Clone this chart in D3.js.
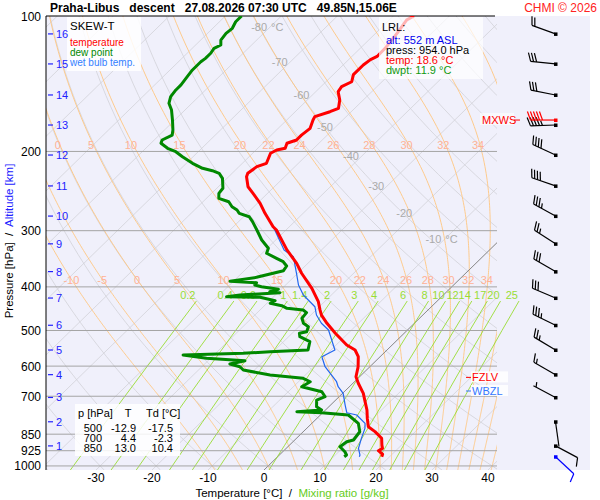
<!DOCTYPE html>
<html>
<head>
<meta charset="utf-8">
<script src="https://cdn.jsdelivr.net/npm/d3@7"></script>
<style>
body { margin: 0; background: #fff; }
svg { font-family: "Liberation Sans", Arial, sans-serif; }
</style>
</head>
<body>
<svg id="skewt" width="600" height="500"></svg>
<script>
// sounding data, [pressure hPa, value degC]
var temperature = [[100,-56.3],[102,-56.9],[109,-56.2],[117,-55.6],[123,-55.5],[125,-56.1],[128.5,-56.4],[135,-56.4],
	[140,-55.4],[143.6,-56.3],[147.3,-56.0],[153.7,-54.2],[160.4,-52.9],[163.2,-53.8],[167.4,-55.6],[170.3,-55.3],
	[177.7,-54.3],[184,-54.6],[188.6,-54.6],[191.8,-55.7],[196.8,-55.1],[198.5,-56.3],[201.9,-56.8],[212.5,-55.7],
	[216.2,-56.8],[223.7,-57.2],[227.6,-56.8],[239.6,-54.7],[247.8,-52.6],[260.8,-49.5],[274.5,-46.8],[294,-42.9],
	[299,-41.7],[331,-36.2],[354.5,-32.0],[373,-29.3],[403,-24.7],[431.5,-21.1],[450,-19.3],[462,-18.1],[482,-15.6],
	[507,-12.3],[538.6,-8.1],[552.5,-5.7],[571.8,-3.9],[601.8,-2.1],[633.4,-0.65],[655,0.96],[689.6,3.7],[714,5.2],
	[751,7.4],[784,9.0],[818,10.7],[839,12.8],[868,15.2],[899,16.5],[914,17.2],[925,16.9],[942,18.3],[954,18.6]];

var dewPoint = [[100,-87.1],[103,-87.1],[106.5,-86.5],[109.3,-86.7],[113.1,-86.4],[116,-85.5],[118,-86.1],[121,-85.8],
	[124.2,-85.8],[126.4,-86],[131.8,-86],[136.4,-85.7],[142.3,-85.3],[146,-85.3],[151.1,-85],[156.3,-84.1],
	[161.8,-82.4],[170.3,-80.4],[179.2,-78.5],[183.9,-77.7],[188.6,-78.6],[191.8,-78.2],[196.8,-76.1],[200.3,-74],
	[205.5,-71.9],[212.5,-68.9],[218,-66.2],[220.7,-64],[223.7,-62.3],[229.5,-60.8],[241.5,-58.9],[247.8,-58.7],
	[254.2,-57.8],[258.7,-55.4],[265.4,-53.9],[269.9,-52.4],[274.5,-51.4],[279.3,-49],[286.5,-47.5],[299,-45.2],
	[314.7,-42.5],[328.3,-39.8],[336.8,-39.2],[345.6,-36.5],[351.6,-34.7],[359.4,-33.3],[368.2,-33],[380.9,-36.6],
	[388.7,-40.6],[391.5,-35.6],[396.2,-35.5],[399.6,-34],[405,-30.5],[410,-31.6],[412.1,-29.6],[417,-36.3],
	[420.6,-38.4],[421.9,-32.3],[429.3,-29],[435,-29.4],[440.4,-26.9],[446.3,-25.5],[450.2,-22.3],[456.4,-21.2],
	[469.7,-21],[481.9,-19.8],[490.4,-18.3],[503,-17.7],[507.2,-18.7],[516.1,-18],[529.5,-15.3],[552.5,-14.1],
	[557.3,-20.6],[561.9,-25.1],[566.8,-35.5],[576.5,-30.7],[583.6,-23.4],[593.5,-25.5],[601.8,-23.2],[612,-22],
	[627.9,-16.3],[638.6,-9.8],[649.9,-7.9],[666.7,-8.5],[684,-4],[701.7,-2.5],[713.8,-3.4],[738.5,-2.2],
	[751.1,-0.7],[757.7,-4.8],[761.6,-0.2],[770.6,5],[804,8.3],[839.4,10.1],[875.8,10.5],[883.4,9.6],
	[906.3,9.3],[929.9,11.1],[945.7,12.0],[954,11.9]];

// wet bulb below the level where it leaves the temperature curve
var wetBulbLow = [[299,-42.0],[331,-36.7],[342.7,-33.8],[373.1,-30.2],[396.2,-27.7],[417,-25],[442.7,-20.8],
	[461.9,-19],[481.9,-16.6],[498.8,-14.1],[538.6,-10.5],[552.5,-9.3],[571.8,-10.4],[601.8,-8.0],[649.9,-3.2],
	[666.7,-2.0],[689.6,0.1],[732.2,2.6],[761.6,4.3],[770.6,6.5],[804,9.5],[825,10.4],[868.3,11.6],[913.7,12.9],
	[945.7,14.4],[954,14.6]];

var isobars = [100, 200, 300, 400, 500, 600, 700, 850, 925, 1000];
var tempTicks = [-30, -20, -10, 0, 10, 20, 30, 40];
var isoLabelT = [-80, -70, -60, -50, -40, -30, -20, -10];
var isoLabelP = [105.8, 126.3, 149.8, 176.2, 204.6, 238.5, 274.4, 313.8];
var mixRatios = [0.2, 0.4, 0.6, 1, 1.4, 2, 3, 4, 6, 8, 10, 12, 14, 17, 20, 25];
var moistThetaW = [-10, -5, 0, 5, 10, 15, 20, 22, 24, 26, 28, 30, 32, 34, 36, 38, 40];
var upperMoistLabels = [0, 5, 10, 15, 20, 22, 24, 26, 28, 30, 32, 34];

var kmLevels = [1, 2, 3, 4, 5, 6, 7, 8, 9, 10, 11, 12, 13, 14, 15, 16];
var kmP = [902.5, 797.7, 704.4, 626.8, 552.5, 486.8, 423.5, 369.9, 320.9, 278.4, 238.6, 203.7, 174.7, 149.8, 127.8, 109.6];
var windDir = [118, 172, 298, 300, 301, 296, 293, 300, 303, 299, 289, 295, 268, 281, 276, 290];
var windSpd = [10, 2, 5, 15, 25, 35, 30, 30, 25, 35, 40, 40, 45, 30, 30, 20];
var maxWind = [170.3, 270, 50];      // p, dir, kt
var groundWind = [954, 133, 10];

var lrlLines = ['alt: 552 m ASL', 'press: 954.0 hPa', 'temp: 18.6 °C', 'dwpt: 11.9 °C'];
var tableP = ['500', '700', '850'];
var tableT = ['-12.9', '4.4', '13.0'];
var tableTd = ['-17.5', '-2.3', '10.4'];

// window.top is read-only, so the plot edges get their own names
var plotL = 46, plotR = 497, plotT = 16, plotB = 470;
var skew = 1.025;

var svg = d3.select('#skewt');
var y = d3.scaleLog().domain([100, 1021]).range([plotT, plotB]);
var xT = d3.scaleLinear().domain([-30, 40]).range([96, 488]);

function sx(t, p) { return xT(t) + skew * (plotB - y(p)); }

var line = d3.line()
	.x(function (d) { return sx(d[1], d[0]); })
	.y(function (d) { return y(d[0]); });

// thermodynamics for the background lines
function dTdp(p, T) {
	var es = 6.112 * Math.exp(17.67 * (T - 273.15) / (T - 29.65));
	var rs = 0.622 * es / (p - es);
	return (287.04 * T + 2.501e6 * rs) / (1005.7 + 2.501e6 * 2.501e6 * rs * 0.622 / (287.04 * T * T)) / p;
}

function moistLine(tw) {
	var T = tw + 273.15, p = 1000, pts = [];
	var Tb = T, pb = 1000, down = [];
	while (pb < 1021) {
		var d = Math.min(3, 1021 - pb);
		Tb += dTdp(pb, Tb) * d; pb += d;
		down.push([pb, Tb]);
	}
	pts = down.reverse();
	pts.push([p, T]);
	while (p > 100) {
		var dp = -Math.min(4, p - 100);
		var k1 = dTdp(p, T);
		var k2 = dTdp(p + dp, T + k1 * dp);
		T += 0.5 * (k1 + k2) * dp; p += dp;
		pts.push([p, T]);
	}
	return pts.map(function (d) { return [d[0], d[1] - 273.15]; });
}

function tdFromW(w, p) {
	var l = Math.log(w * p / (622 + w) / 6.112);
	return 243.5 * l / (17.67 - l);
}

function valueAt(pts, p) {
	var best = pts[0];
	pts.forEach(function (d) { if (Math.abs(d[0] - p) < Math.abs(best[0] - p)) best = d; });
	return best[1];
}

var defs = svg.append('defs');
defs.append('clipPath').attr('id', 'plotClip')
	.append('rect').attr('x', plotL).attr('y', plotT).attr('width', plotR - plotL).attr('height', plotB - plotT);
defs.append('clipPath').attr('id', 'mixClip')
	.append('rect').attr('x', plotL).attr('y', plotT).attr('width', 544).attr('height', plotB - plotT);

svg.append('rect')
	.attr('x', plotL).attr('y', plotT).attr('width', 544).attr('height', plotB - plotT)
	.attr('fill', '#f0f0fb');

var grid = svg.append('g').attr('clip-path', 'url(#plotClip)');

// isotherms
grid.selectAll('line.iso')
	.data(d3.range(-140, 50, 10))
	.enter().append('line')
	.attr('class', 'iso')
	.attr('x1', function (t) { return sx(t, 1021); })
	.attr('y1', y(1021))
	.attr('x2', function (t) { return sx(t, 100); })
	.attr('y2', y(100))
	.attr('stroke', '#d2d2d8')
	.attr('stroke-width', 0.8);

// dry adiabats
var presSteps = d3.range(0, 41).map(function (i) { return 1021 * Math.pow(100 / 1021, i / 40); });
grid.selectAll('path.dry')
	.data(d3.range(-40, 190, 10))
	.enter().append('path')
	.attr('class', 'dry')
	.attr('d', function (th) {
		return line(presSteps.map(function (p) { return [p, (th + 273.15) * Math.pow(p / 1000, 0.2857) - 273.15]; }));
	})
	.attr('fill', 'none')
	.attr('stroke', '#d2d2d8')
	.attr('stroke-width', 0.8);

// saturated adiabats
var moistPts = moistThetaW.map(moistLine);
grid.selectAll('path.moist')
	.data(moistPts)
	.enter().append('path')
	.attr('class', 'moist')
	.attr('d', line)
	.attr('fill', 'none')
	.attr('stroke', '#ffc680')
	.attr('stroke-width', 0.9);

// 0 degC isotherm
grid.append('line')
	.attr('x1', sx(0, 1021)).attr('y1', y(1021))
	.attr('x2', sx(0, 100)).attr('y2', y(100))
	.attr('stroke', '#777')
	.attr('stroke-width', 0.8);

// mixing ratio lines
var mixTop = 430;
svg.append('g').attr('clip-path', 'url(#mixClip)')
	.selectAll('path')
	.data(mixRatios)
	.enter().append('path')
	.attr('d', function (w) {
		return line([1021, 900, 800, 700, 600, 500, mixTop].map(function (p) { return [p, tdFromW(w, p)]; }));
	})
	.attr('fill', 'none')
	.attr('stroke', '#99dd33')
	.attr('stroke-width', 0.9);

// isobars
svg.append('g').selectAll('line')
	.data(isobars.slice(1))
	.enter().append('line')
	.attr('x1', plotL).attr('x2', plotR)
	.attr('y1', function (p) { return y(p); })
	.attr('y2', function (p) { return y(p); })
	.attr('stroke', '#a4a4a4')
	.attr('stroke-width', 1);

svg.append('line').attr('x1', plotL).attr('x2', 495).attr('y1', plotT).attr('y2', plotT).attr('stroke', '#000');
svg.append('line').attr('x1', plotL).attr('x2', plotL).attr('y1', plotT).attr('y2', plotB).attr('stroke', '#000');

// grid labels
var labels = svg.append('g').attr('font-size', 11);
labels.selectAll('text.isoLab')
	.data(isoLabelT)
	.enter().append('text')
	.attr('class', 'isoLab')
	.attr('x', function (t, i) { return sx(t, isoLabelP[i]) - 3; })
	.attr('y', function (t, i) { return y(isoLabelP[i]) + 4; })
	.attr('text-anchor', 'end')
	.attr('fill', '#aaaaaa')
	.text(function (t) { return t; });
labels.selectAll('text.isoUnit')
	.data([0, 7])
	.enter().append('text')
	.attr('class', 'isoUnit')
	.attr('x', function (i) { return sx(isoLabelT[i], isoLabelP[i]) + 1; })
	.attr('y', function (i) { return y(isoLabelP[i]) + 4; })
	.attr('fill', '#aaaaaa')
	.text('°C');

var upperLabP = y.invert(145), lowerLabP = y.invert(280);
labels.selectAll('text.moistUp')
	.data(upperMoistLabels)
	.enter().append('text')
	.attr('class', 'moistUp')
	.attr('x', function (tw) { return sx(valueAt(moistPts[moistThetaW.indexOf(tw)], upperLabP), upperLabP); })
	.attr('y', 149)
	.attr('text-anchor', 'middle')
	.attr('fill', '#ffb295')
	.text(function (tw) { return tw; });
labels.selectAll('text.moistLow')
	.data(moistThetaW.filter(function (tw) { return tw <= 34; }))
	.enter().append('text')
	.attr('class', 'moistLow')
	.attr('x', function (tw) { return sx(valueAt(moistPts[moistThetaW.indexOf(tw)], lowerLabP), lowerLabP) - 2; })
	.attr('y', 284)
	.attr('text-anchor', 'middle')
	.attr('fill', '#ffb295')
	.text(function (tw) { return tw; });
labels.selectAll('text.mix')
	.data(mixRatios)
	.enter().append('text')
	.attr('class', 'mix')
	.attr('x', function (w) { return sx(tdFromW(w, mixTop), mixTop) - 1; })
	.attr('y', y(mixTop) - 2)
	.attr('text-anchor', 'end')
	.attr('fill', '#99dd33')
	.text(function (w) { return w; });

// legend
var legend = svg.append('g').attr('font-size', 10);
legend.append('rect').attr('x', 67).attr('y', 17).attr('width', 74).attr('height', 54)
	.attr('fill', '#fff').attr('opacity', 0.85);
legend.append('text').attr('x', 70).attr('y', 30).attr('font-size', 11.5).text('SKEW-T');
legend.selectAll('text.leg')
	.data([['temperature', '#ff0000'], ['dew point', '#008800'], ['wet bulb temp.', '#3380ff']])
	.enter().append('text')
	.attr('class', 'leg')
	.attr('x', 70)
	.attr('y', function (d, i) { return 45.5 + i * 10; })
	.attr('fill', function (d) { return d[1]; })
	.text(function (d) { return d[0]; });

// table of standard levels
var table = svg.append('g').attr('font-size', 11);
table.append('rect').attr('x', 75).attr('y', 404).attr('width', 105).attr('height', 52)
	.attr('fill', '#fff').attr('opacity', 0.85);
table.append('text').attr('x', 78).attr('y', 417).text('p [hPa]');
table.append('text').attr('x', 128).attr('y', 417).attr('text-anchor', 'middle').text('T');
table.append('text').attr('x', 146).attr('y', 417).text('Td [°C]');
[tableP, tableT, tableTd].forEach(function (col, c) {
	table.selectAll('text.c' + c)
		.data(col)
		.enter().append('text')
		.attr('class', 'c' + c)
		.attr('x', [102, 136, 173][c])
		.attr('y', function (d, i) { return 432 + i * 10; })
		.attr('text-anchor', 'end')
		.text(function (d) { return d; });
});

// profiles
var wetBulb = temperature.filter(function (d) { return d[0] < 294; }).concat(wetBulbLow);
var prof = svg.append('g').attr('clip-path', 'url(#plotClip)').attr('fill', 'none')
	.attr('stroke-linejoin', 'round');
prof.append('path').datum(dewPoint).attr('d', line).attr('stroke', '#008800').attr('stroke-width', 3);
prof.append('path').datum(wetBulb).attr('d', line).attr('stroke', '#2266ee').attr('stroke-width', 1.2);
prof.append('path').datum(temperature).attr('d', line).attr('stroke', '#ff0000').attr('stroke-width', 3);

// lifted reference level box
var lrl = svg.append('g').attr('font-size', 11);
lrl.append('rect').attr('x', 379).attr('y', 17).attr('width', 104).attr('height', 62)
	.attr('fill', '#fff').attr('opacity', 0.7);
lrl.append('text').attr('x', 382).attr('y', 31).text('LRL:');
lrl.selectAll('text.v')
	.data(lrlLines)
	.enter().append('text')
	.attr('class', 'v')
	.attr('x', 386)
	.attr('y', function (d, i) { return 44 + i * 10; })
	.attr('fill', function (d, i) { return ['#0000ee', '#000', '#ff0000', '#119911'][i]; })
	.text(function (d) { return d; });

// freezing level and wet bulb zero
function crossing(pts) {
	for (var i = pts.length - 1; i > 0; --i) {
		var a = pts[i], b = pts[i - 1];
		if (a[1] >= 0 && b[1] < 0) return a[0] + (b[0] - a[0]) * a[1] / (a[1] - b[1]);
	}
}
var levels = [['FZLV', crossing(temperature), '#ff0000'], ['WBZL', crossing(wetBulb), '#3377ff']];
var lv = svg.append('g').attr('font-size', 11);
lv.selectAll('rect')
	.data(levels)
	.enter().append('rect')
	.attr('x', 471).attr('width', 37)
	.attr('y', function (d) { return y(d[1]) - 8; })
	.attr('height', 11)
	.attr('fill', '#fff').attr('opacity', 0.85);
lv.selectAll('line')
	.data(levels)
	.enter().append('line')
	.attr('x1', 466).attr('x2', 471)
	.attr('y1', function (d) { return y(d[1]) - 2; })
	.attr('y2', function (d) { return y(d[1]) - 2; })
	.attr('stroke', function (d) { return d[2]; });
lv.selectAll('text')
	.data(levels)
	.enter().append('text')
	.attr('x', 472)
	.attr('y', function (d) { return y(d[1]) + 2; })
	.attr('fill', function (d) { return d[2]; })
	.text(function (d) { return d[0]; });

// wind barbs
var barbX = 555.5;
function drawBarb(g, p, dir, spd, color) {
	var a = dir * Math.PI / 180;
	var ux = Math.sin(a), uy = -Math.cos(a);
	var nx = -uy, ny = ux;
	var tilt = 0.35, bx = nx * Math.cos(tilt) + ux * Math.sin(tilt), by = ny * Math.cos(tilt) + uy * Math.sin(tilt);
	var y0 = y(p), L = 25;
	g.append('line').attr('x1', barbX).attr('y1', y0)
		.attr('x2', barbX + ux * L).attr('y2', y0 + uy * L)
		.attr('stroke', color).attr('stroke-width', 1.2);
	g.append('rect').attr('x', barbX - 1.5).attr('y', y0 - 1.5).attr('width', 3.5).attr('height', 3.5).attr('fill', color);
	var n5 = Math.round(spd / 5), full = Math.floor(n5 / 2), half = n5 % 2;
	var pos = L;
	for (var i = 0; i < full + half; ++i) {
		var len = i < full ? 9 : 5;
		if (full == 0) pos = L - 3;
		var sxp = barbX + ux * pos, syp = y0 + uy * pos;
		g.append('line').attr('x1', sxp).attr('y1', syp)
			.attr('x2', sxp + bx * len).attr('y2', syp + by * len)
			.attr('stroke', color).attr('stroke-width', 1.2);
		pos -= 3;
	}
}
var winds = svg.append('g');
kmP.forEach(function (p, i) { drawBarb(winds, p, windDir[i], windSpd[i], '#000'); });
drawBarb(winds, maxWind[0], maxWind[1], maxWind[2], '#ff0000');
drawBarb(winds, groundWind[0], groundWind[1], groundWind[2], '#0000ff');
winds.append('rect').attr('x', 480).attr('y', y(maxWind[0]) - 7).attr('width', 34).attr('height', 12)
	.attr('fill', '#fff').attr('opacity', 0.6);
winds.append('text').attr('x', 482).attr('y', y(maxWind[0]) + 4).attr('font-size', 11)
	.attr('fill', '#ff0000').text('MXWS');
winds.append('line').attr('x1', 514).attr('x2', 520)
	.attr('y1', y(maxWind[0])).attr('y2', y(maxWind[0])).attr('stroke', '#ff0000');

// axes
var axes = svg.append('g');
axes.selectAll('text.pl')
	.data(isobars)
	.enter().append('text')
	.attr('class', 'pl')
	.attr('x', 41)
	.attr('y', function (p) { return y(p) + 4.5; })
	.attr('text-anchor', 'end')
	.attr('font-size', 12)
	.text(function (p) { return p; });
axes.selectAll('line.km')
	.data(kmP)
	.enter().append('line')
	.attr('class', 'km')
	.attr('x1', 48).attr('x2', 53)
	.attr('y1', function (p) { return y(p); })
	.attr('y2', function (p) { return y(p); })
	.attr('stroke', '#2222ff').attr('stroke-width', 1.2);
axes.selectAll('text.km')
	.data(kmLevels)
	.enter().append('text')
	.attr('class', 'km')
	.attr('x', 56)
	.attr('y', function (k, i) { return y(kmP[i]) + 4; })
	.attr('font-size', 11)
	.attr('fill', '#2222ff')
	.text(function (k) { return k; });
axes.selectAll('text.tl')
	.data(tempTicks)
	.enter().append('text')
	.attr('class', 'tl')
	.attr('x', function (t) { return xT(t); })
	.attr('y', 482)
	.attr('text-anchor', 'middle')
	.attr('font-size', 12)
	.text(function (t) { return t; });

var xt = axes.append('text').attr('x', 292).attr('y', 497).attr('text-anchor', 'middle')
	.attr('font-size', 11.5).style('white-space', 'pre');
xt.append('tspan').text('Temperature [°C]  /  ');
xt.append('tspan').attr('fill', '#66cc22').text('Mixing ratio [g/kg]');

var yt = axes.append('text').attr('transform', 'translate(13,241) rotate(-90)').attr('text-anchor', 'middle')
	.attr('font-size', 11.5).style('white-space', 'pre');
yt.append('tspan').text('Pressure [hPa]  /  ');
yt.append('tspan').attr('fill', '#2222ff').text('Altitude [km]');

svg.append('text').attr('x', 50).attr('y', 12).attr('font-size', 12).attr('font-weight', 'bold')
	.style('white-space', 'pre')
	.text('Praha-Libus   descent   27.08.2026 07:30 UTC   49.85N,15.06E');
svg.append('text').attr('x', 597).attr('y', 12).attr('font-size', 12).attr('text-anchor', 'end')
	.attr('fill', '#ff2222').text('CHMI © 2026');
</script>
</body>
</html>
